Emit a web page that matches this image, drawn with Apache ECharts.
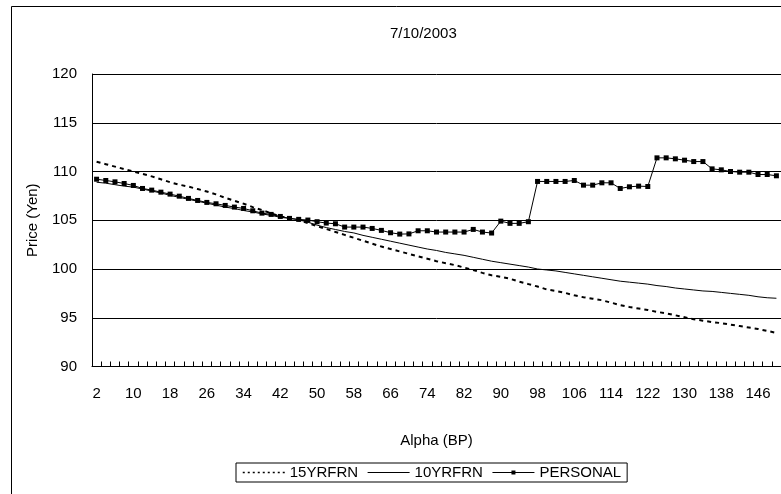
<!DOCTYPE html>
<html>
<head>
<meta charset="utf-8">
<script src="https://cdn.jsdelivr.net/npm/echarts@6/dist/echarts.min.js"></script>
<style>
html,body{margin:0;padding:0;background:#fff;}
#chart{width:781px;height:494px;}
</style>
</head>
<body>
<div id="chart"></div>
<script>
const titleText = '7/10/2003';
const xTitle = 'Alpha (BP)';
const yTitle = 'Price (Yen)';
const alpha = ['2','4','6','8','10','12','14','16','18','20','22','24','26','28','30','32','34','36','38','40',
  '42','44','46','48','50','52','54','56','58','60','62','64','66','68','70','72','74','76','78','80',
  '82','84','86','88','90','92','94','96','98','100','102','104','106','108','110','112','114','116','118','120',
  '122','124','126','128','130','132','134','136','138','140','142','144','146','148','150'];
const yr15 = [111.0,110.75,110.5,110.25,110.0,109.75,109.5,109.2,108.9,108.65,
  108.45,108.2,107.95,107.65,107.3,107.0,106.7,106.35,106.05,105.7,
  105.4,105.2,105.0,104.7,104.4,104.1,103.8,103.5,103.2,102.9,
  102.6,102.3,102.05,101.8,101.55,101.3,101.05,100.8,100.6,100.4,
  100.15,99.9,99.6,99.35,99.2,99.0,98.7,98.45,98.2,97.9,
  97.75,97.55,97.3,97.1,96.95,96.8,96.55,96.3,96.1,95.95,
  95.8,95.6,95.45,95.25,95.05,94.85,94.7,94.55,94.45,94.3,
  94.15,94.0,93.85,93.65,93.45];
const yr10 = [108.9,108.8,108.65,108.5,108.4,108.2,108.0,107.8,107.55,107.35,
  107.15,106.95,106.75,106.55,106.35,106.2,106.0,105.85,105.65,105.5,
  105.3,105.2,105.05,104.8,104.5,104.25,104.05,103.85,103.7,103.45,
  103.25,103.05,102.85,102.65,102.45,102.25,102.05,101.9,101.7,101.55,
  101.4,101.2,101.0,100.8,100.65,100.5,100.35,100.2,100.0,99.9,
  99.8,99.65,99.5,99.35,99.2,99.05,98.9,98.75,98.65,98.55,
  98.45,98.3,98.2,98.05,97.95,97.85,97.75,97.7,97.6,97.5,
  97.4,97.3,97.15,97.05,97.0];
const personal = [109.21,109.08,108.94,108.77,108.57,108.26,108.09,107.88,107.68,107.47,
  107.24,107.03,106.83,106.69,106.52,106.35,106.21,105.97,105.73,105.60,
  105.39,105.19,105.09,105.02,104.85,104.71,104.64,104.30,104.30,104.30,
  104.16,103.96,103.72,103.58,103.60,103.92,103.92,103.79,103.79,103.79,
  103.79,104.06,103.79,103.69,104.91,104.68,104.68,104.85,108.98,108.98,
  108.98,108.98,109.08,108.60,108.60,108.84,108.84,108.26,108.43,108.50,
  108.46,111.40,111.40,111.30,111.16,111.02,111.02,110.27,110.17,110.00,
  109.93,109.93,109.69,109.69,109.56];
const yMin = 90, yMax = 120, yStep = 5;

const FONT = "'Liberation Sans', Arial, sans-serif";
const chart = echarts.init(document.getElementById('chart'), null, {renderer:'canvas'});
chart.setOption({
  animation: false,
  backgroundColor: '#fff',
  textStyle: {fontFamily: FONT, color: '#000'},
  graphic: [{
    type: 'rect', left: 9, top: 4, silent: true, z: -1,
    shape: {x: 0, y: 0, width: 820, height: 520},
    style: {fill: 'none', stroke: '#000', lineWidth: 1}
  }],
  title: {
    text: titleText, left: 385, top: 21,
    textStyle: {fontFamily: FONT, fontSize: 15, fontWeight: 'normal', color: '#000'}
  },
  legend: {
    left: 236, top: 463,
    padding: [2, 6, 2, 6],
    borderColor: '#000', borderWidth: 1,
    itemWidth: 42, itemHeight: 5, itemGap: 9,
    textStyle: {fontFamily: FONT, fontSize: 15, color: '#000'},
    data: [
      {name: '15YRFRN', itemStyle: {opacity: 0}, lineStyle: {type: [2, 3], width: 1.5}},
      {name: '10YRFRN', itemStyle: {opacity: 0}, lineStyle: {width: 1}},
      {name: 'PERSONAL', lineStyle: {width: 1}}
    ]
  },
  grid: {left: 92, right: 0, top: 74, bottom: 127.5, containLabel: false},
  xAxis: {
    type: 'category', data: alpha, boundaryGap: true,
    name: xTitle, nameLocation: 'middle', nameGap: 67,
    nameTextStyle: {fontFamily: FONT, fontSize: 15, color: '#000'},
    axisLine: {lineStyle: {color: '#000', width: 1}},
    axisTick: {show: true, inside: true, length: 5, interval: 0, lineStyle: {color: '#000'}},
    axisLabel: {interval: 3, margin: 20, fontFamily: FONT, fontSize: 15, color: '#000'},
    splitLine: {show: false}
  },
  yAxis: {
    type: 'value', min: yMin, max: yMax, interval: yStep,
    name: yTitle, nameLocation: 'middle', nameGap: 52, nameRotate: 90,
    nameTextStyle: {fontFamily: FONT, fontSize: 15, color: '#000'},
    axisLine: {show: true, lineStyle: {color: '#000', width: 1}},
    axisTick: {show: false},
    axisLabel: {margin: 15, fontFamily: FONT, fontSize: 15, color: '#000'},
    splitLine: {show: true, lineStyle: {color: '#000', width: 1}}
  },
  series: [
    {
      name: '15YRFRN', type: 'line', data: yr15, symbol: 'none', showSymbol: false,
      lineStyle: {color: '#000', width: 2, type: [4, 4]},
      itemStyle: {color: '#000'}
    },
    {
      name: '10YRFRN', type: 'line', data: yr10, symbol: 'none', showSymbol: false,
      lineStyle: {color: '#000', width: 1},
      itemStyle: {color: '#000'}
    },
    {
      name: 'PERSONAL', type: 'line', data: personal, symbol: 'rect', symbolSize: 5,
      lineStyle: {color: '#000', width: 1},
      itemStyle: {color: '#000'}
    }
  ]
});
</script>
</body>
</html>
